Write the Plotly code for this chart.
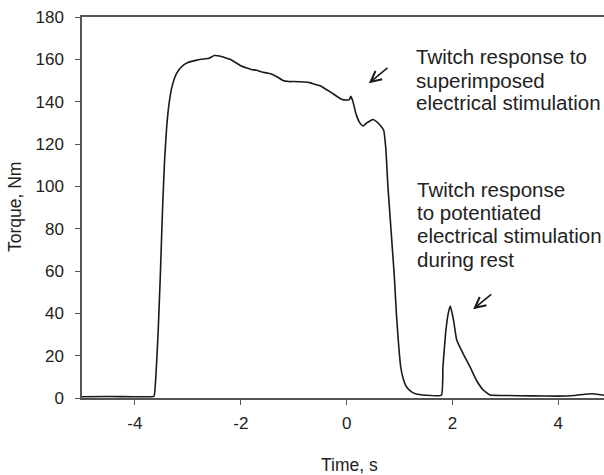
import plotly.graph_objects as go

# Time (s) and torque (Nm)
time_s = [-5.0, -4.5, -4.0, -3.7, -3.64, -3.60, -3.56, -3.52, -3.48, -3.44, -3.40, -3.35,
          -3.30, -3.22, -3.12, -3.0, -2.85, -2.75, -2.6, -2.5, -2.4, -2.3, -2.2, -2.1,
          -2.0, -1.9, -1.8, -1.7, -1.6, -1.5, -1.4, -1.3, -1.2, -1.1, -1.0, -0.9, -0.8,
          -0.7, -0.6, -0.5, -0.4, -0.3, -0.2, -0.1, 0.0, 0.05, 0.08, 0.12, 0.18, 0.25,
          0.31, 0.38, 0.45, 0.50, 0.57, 0.63, 0.70, 0.74, 0.78, 0.82, 0.86, 0.90, 0.94,
          0.98, 1.02, 1.07, 1.13, 1.22, 1.3, 1.5, 1.79, 1.82, 1.87, 1.92, 1.96, 2.02,
          2.08, 2.20, 2.33, 2.45, 2.58, 2.71, 3.0, 3.5, 4.0, 4.3, 4.5, 4.65, 4.8, 4.9]
torque_nm = [0.6, 0.7, 0.6, 0.6, 0.8, 12, 32, 58, 88, 112, 128, 140,
             147, 153, 156.5, 158.5, 159.5, 160, 160.5, 161.8, 161.6, 160.8, 160, 158.5,
             157, 156, 155.2, 154.8, 154, 153.5, 152.8, 151.5, 150, 149.5, 149.5, 149.4, 149.3,
             149, 148.2, 147.5, 146, 144.5, 142.8, 141.2, 140.8, 141, 142.5, 140, 134, 130,
             128.5, 130, 131, 131.6, 130.5, 129, 126.5, 118, 100, 86, 72, 58, 40,
             26, 15, 9, 5.3, 3, 2, 1.3, 1.3, 14.8, 30.6, 40, 43.5, 36.8,
             27.4, 21, 14.8, 8.5, 3.8, 1.4, 1.2, 1.0, 0.9, 1.2, 1.8, 2.0, 1.5, 1.2]

x_ticks = [-4, -2, 0, 2, 4]
y_ticks = [0, 20, 40, 60, 80, 100, 120, 140, 160, 180]

note1_lines = ["Twitch response to", "superimposed", "electrical stimulation"]
note2_lines = ["Twitch response", "to potentiated", "electrical stimulation", "during rest"]

FONT = "Arial, Liberation Sans, sans-serif"
TXT = "#222222"
AX = "#555555"

fig = go.Figure()
fig.add_trace(go.Scatter(x=time_s, y=torque_nm, mode="lines",
                         line=dict(color="#1a1a1a", width=1.6, shape="spline", smoothing=0.4),
                         showlegend=False, hoverinfo="skip"))

fig.update_layout(
    width=604, height=475,
    margin=dict(l=82, r=0, t=17, b=77),
    paper_bgcolor="white", plot_bgcolor="white",
    font=dict(family=FONT, size=17, color=TXT),
    showlegend=False,
)
fig.update_xaxes(range=[-5.0, 4.863], tickmode="array", tickvals=x_ticks,
                 ticktext=[str(v) for v in x_ticks],
                 showgrid=False, zeroline=False, showline=True, linecolor=AX, linewidth=1.5,
                 mirror=True, ticks="outside", ticklen=5, tickcolor=AX, tickwidth=1.2,
                 ticklabelstandoff=4, tickfont=dict(size=17, family=FONT, color=TXT))
fig.update_yaxes(range=[0, 180], tickmode="array", tickvals=y_ticks,
                 ticktext=[str(v) for v in y_ticks],
                 showgrid=False, zeroline=False, showline=True, linecolor=AX, linewidth=1.5,
                 ticks="outside", ticklen=5, tickcolor=AX, tickwidth=1.2,
                 ticklabelstandoff=8, tickfont=dict(size=17, family=FONT, color=TXT))

anns = []
# axis titles (pixel positions converted to paper coordinates)
anns.append(dict(text="Time, s", x=349, y=475 - 465, xref="paper", yref="paper",
                 showarrow=False, font=dict(size=17.5, family=FONT, color=TXT)))
anns.append(dict(text="Torque, Nm", x=15, y=475 - 207, xref="paper", yref="paper",
                 textangle=-90, showarrow=False, font=dict(size=17.5, family=FONT, color=TXT)))
for a in anns:
    a["x"] = (a["x"] - 82) / (604 - 82)
    a["y"] = (a["y"] - 77) / (475 - 77 - 17)
    a["xanchor"] = "center"
    a["yanchor"] = "middle"

note1_y = [161.5, 150.2, 139.6]
for txt, yy in zip(note1_lines, note1_y):
    anns.append(dict(text=txt, x=1.27, y=yy, xref="x", yref="y", xanchor="left",
                     yanchor="middle", showarrow=False,
                     font=dict(size=20.5, family=FONT, color=TXT)))
note2_y = [98.5, 87.6, 76.8, 65.6]
for txt, yy in zip(note2_lines, note2_y):
    anns.append(dict(text=txt, x=1.30, y=yy, xref="x", yref="y", xanchor="left",
                     yanchor="middle", showarrow=False,
                     font=dict(size=20.5, family=FONT, color=TXT)))

# arrows
anns.append(dict(text="", x=0.42, y=148.7, ax=0.80, ay=156.5, xref="x", yref="y",
                 axref="x", ayref="y", showarrow=True, arrowhead=5, arrowsize=1.3,
                 arrowwidth=1.6, arrowcolor="#1a1a1a", standoff=0, startstandoff=0))
anns.append(dict(text="", x=2.39, y=41.9, ax=2.76, ay=49.5, xref="x", yref="y",
                 axref="x", ayref="y", showarrow=True, arrowhead=5, arrowsize=1.3,
                 arrowwidth=1.6, arrowcolor="#1a1a1a", standoff=0, startstandoff=0))

fig.update_layout(annotations=anns)
fig.write_html("out.html")
